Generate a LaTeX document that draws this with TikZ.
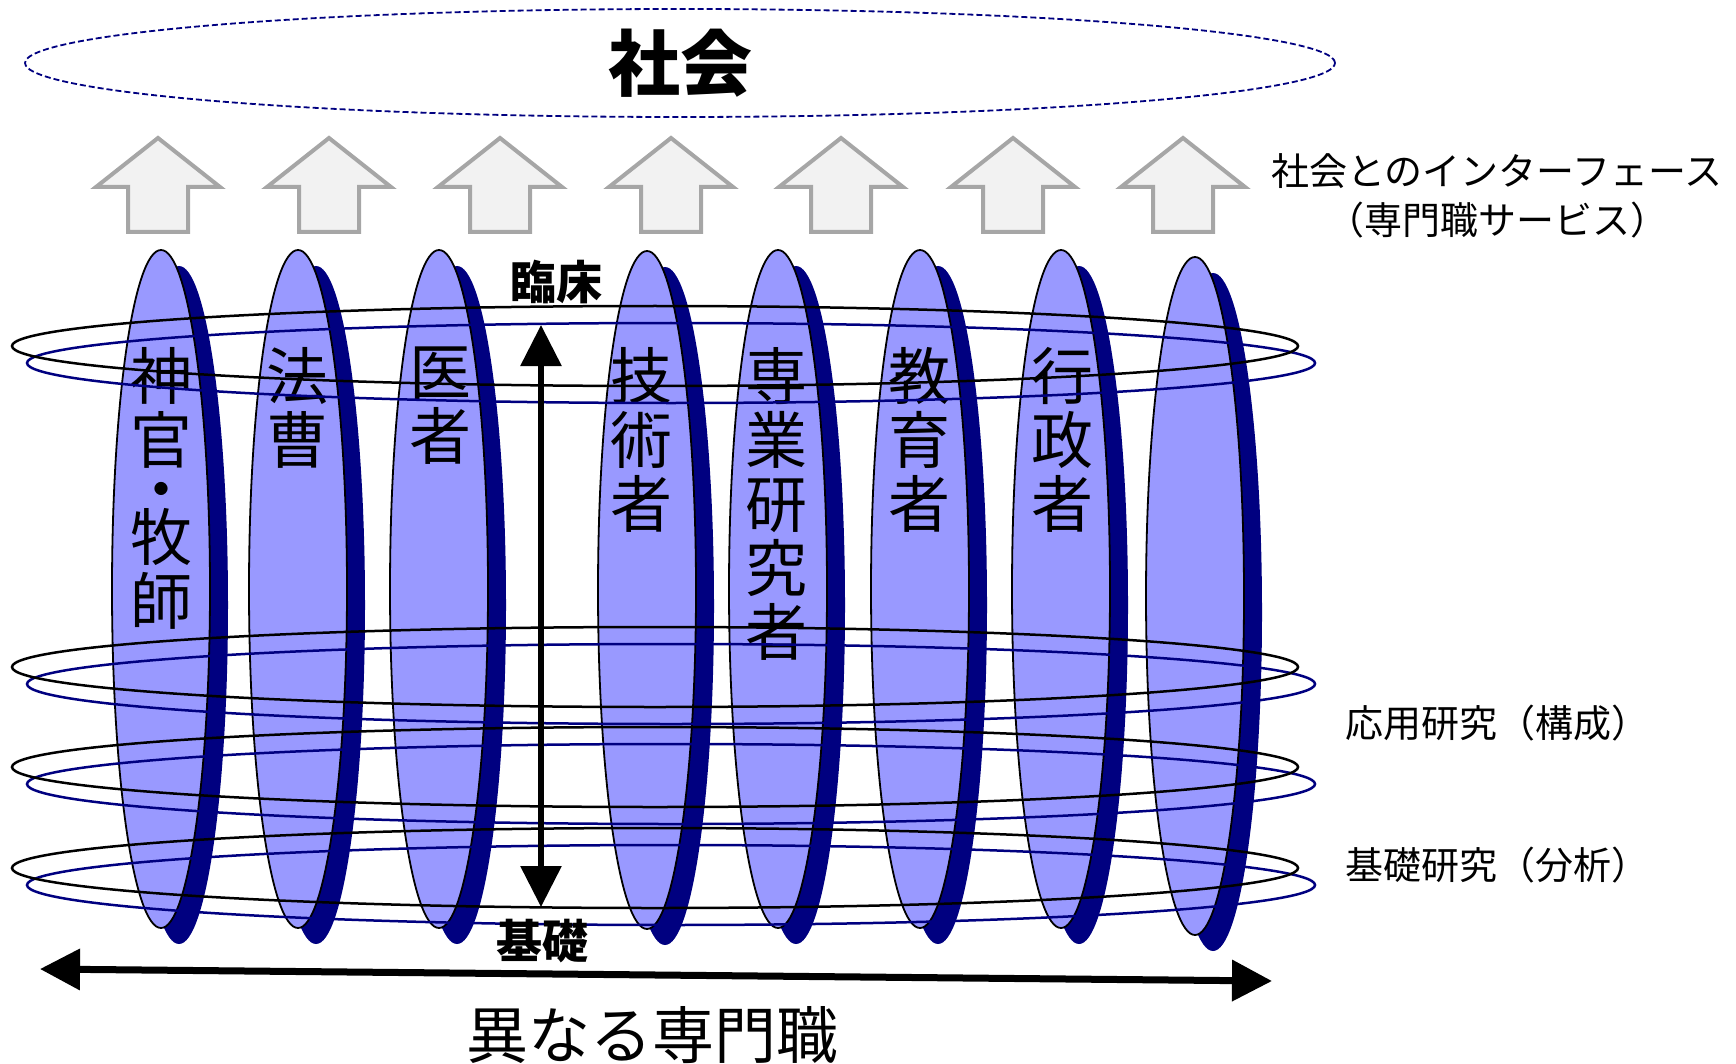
\documentclass[tikz,border=0pt]{standalone}
\usepackage{fontspec}
\setmainfont{Noto Sans CJK JP}
\usetikzlibrary{arrows.meta,shapes.geometric}
\definecolor{diskfill}{HTML}{9999FF}
\definecolor{navyc}{HTML}{000080}
\definecolor{arrowfill}{HTML}{F2F2F2}
\definecolor{arrowline}{HTML}{A6A6A6}
\begin{document}
\begin{tikzpicture}[x=1pt,y=-1pt,
  uparrow/.style={fill=arrowfill,draw=arrowline,line width=4pt,line join=miter},
  disk/.style={fill=diskfill,draw=black,line width=1.8pt},
  diskback/.style={fill=navyc},
  ringk/.style={draw=black,line width=2.5pt},
  ringb/.style={draw=navyc,line width=2.5pt},
  disklabel/.style={font=\fontsize{62}{64}\selectfont,align=center,anchor=north,inner sep=0pt},
  sidelabel/.style={font=\fontsize{38}{49}\selectfont,align=center,inner sep=0pt},
  axislabel/.style={font=\bfseries\fontsize{46}{50}\selectfont,inner sep=0pt},
  vaxis/.style={line width=6pt,{Triangle[length=41pt,width=40pt]}-{Triangle[length=41pt,width=40pt]}},
  haxis/.style={line width=7pt,{Triangle[length=40pt,width=40pt]}-{Triangle[length=40pt,width=40pt]}}]
\useasboundingbox (0,0) rectangle (1736,1064);

% society
\node (soc) [draw=navyc, line width=1.8pt, dash pattern=on 6pt off 3pt, ellipse,
  minimum width=1310pt, minimum height=108pt, inner sep=0pt,
  font=\bfseries\fontsize{72}{80}\selectfont] at (680,63) {社会};

% up arrows
\foreach \c in {158,329,500,671,841,1013,1183}{
  \draw[uparrow] (\c-30,232) -- (\c-30,187) -- (\c-62,187) -- (\c,138) -- (\c+62,187) -- (\c+30,187) -- (\c+30,232) -- cycle;
}

% disks
\foreach \x/\y in {161/589,298/589,439/589,647/590,778/589,920/589,1061/589,1195/596}{
  \fill[diskback] (\x+18,\y+16) ellipse [x radius=49, y radius=339];
  \draw[disk] (\x,\y) ellipse [x radius=49, y radius=339];
}

% disk labels
\node[disklabel] (l1) at (161,347) {神\\官\\[-15pt]・\\[-16pt]牧\\師};
\node[disklabel] (l2) at (297,347) {法\\曹};
\node[disklabel] (l3) at (440,347) {医\\者};
\node[disklabel] (l4) at (641,347) {技\\術\\者};
\node[disklabel] (l5) at (776,347) {専\\業\\研\\究\\者};
\node[disklabel] (l6) at (919,347) {教\\育\\者};
\node[disklabel] (l7) at (1062,347) {行\\政\\者};

% rings
\foreach \y in {346,667,767,868}{
  \draw[ringb] (671,\y+17) ellipse [x radius=644, y radius=40];
  \draw[ringk] (655,\y) ellipse [x radius=643, y radius=40];
}

% vertical axis
\coordinate (vtop) at (541,325);
\coordinate (vbot) at (541,907);
\draw[vaxis] (vtop) -- (vbot);
\node[axislabel] (clin) at (556,282) {臨床};
\node[axislabel] (basic) at (542,941) {基礎};

% horizontal axis
\coordinate (hl) at (40,969);
\coordinate (hr) at (1272,981);
\draw[haxis] (hl) -- (hr);
\node[font=\fontsize{62}{66}\selectfont, inner sep=0pt] (prof) at (652,1035) {異なる専門職};

% side labels
\node[sidelabel] (iface) at (1497,196) {社会とのインターフェース\\（専門職サービス）};
\node[sidelabel] (appl) at (1497,723) {応用研究（構成）};
\node[sidelabel] (fund) at (1497,865) {基礎研究（分析）};
\end{tikzpicture}
\end{document}
